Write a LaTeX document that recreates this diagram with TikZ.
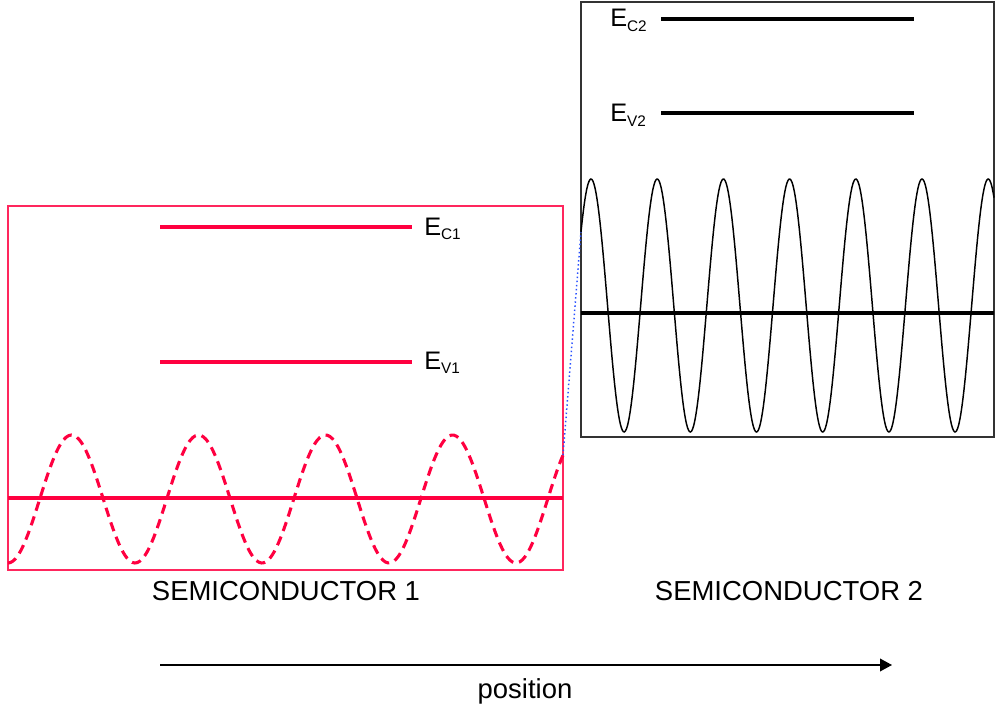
\documentclass[tikz,border=0pt]{standalone}
\usepackage{fontspec}
\setmainfont{Liberation Sans}
\usepackage{xcolor}
\usepackage{tikz}
\usetikzlibrary{arrows.meta,positioning}
\definecolor{semired}{RGB}{255,0,64}
\definecolor{semiblue}{RGB}{40,80,255}
\newcommand{\elabel}[1]{E\raisebox{-3.5pt}{\fontsize{11.5}{12}\selectfont #1}}

\begin{document}
\begin{tikzpicture}[x=0.75pt, y=-0.75pt,
  every node/.style={inner sep=0pt, font=\fontsize{19}{20}\selectfont},
  frame/.style={draw=#1, line width=1pt},
  level/.style={draw=#1, line width=2.3pt},
  band/.style={draw=#1, line width=3pt},
  title/.style={anchor=base, font=\fontsize{20.6}{22}\selectfont},
  arrow/.style={-{Triangle[length=9pt,width=9.5pt]}, line width=1.1pt}
]
\useasboundingbox (0,0) rectangle (998,709);
% semiconductor 1
\draw[frame=semired!85] (8,206) rectangle (563,570);
\node[anchor=base west] (ec1) at (424,235) {\elabel{C1}};
\node[anchor=base west] (ev1) at (424,369) {\elabel{V1}};
\foreach \y in {227, 362}
  \draw[level=semired] (160,\y) -- (412,\y);
\draw[band=semired] (8,498) -- (563,498);
\draw[semired, line width=2.3pt, dash pattern=on 7pt off 4.5pt]
  plot[domain=8:563, samples=220, smooth] (\x, {499+64*cos(2.8346*(\x-8))});
% semiconductor 2
\draw[frame=black!80] (581,2) rectangle (994,437);
\node[anchor=base west] (ec2) at (610,27) {\elabel{C2}};
\node[anchor=base west] (ev2) at (610,122) {\elabel{V2}};
\foreach \y in {19, 113}
  \draw[level=black] (661,\y) -- (914,\y);
\draw[black, line width=1.1pt]
  plot[domain=581:994, samples=420, smooth] (\x, {305.5-126.5*cos(5.438*(\x-591))});
\draw[band=black, line width=2.5pt] (581,313) -- (994,313);
% junction
\coordinate (wave1end) at (563,455.2);
\coordinate (wave2start) at (581,232);
\draw[semiblue, dotted, line width=1.1pt] (wave1end) -- (wave2start);
% titles and axis
\node[title] (semi1) at (286,600) {SEMICONDUCTOR 1};
\node[title] (semi2) at (789,600) {SEMICONDUCTOR 2};
\coordinate (pstart) at (160,665);
\coordinate (pend) at (892,665);
\draw[arrow] (pstart) -- (pend);
\node[title] (pos) at (525,698) {position};
\end{tikzpicture}
\end{document}
